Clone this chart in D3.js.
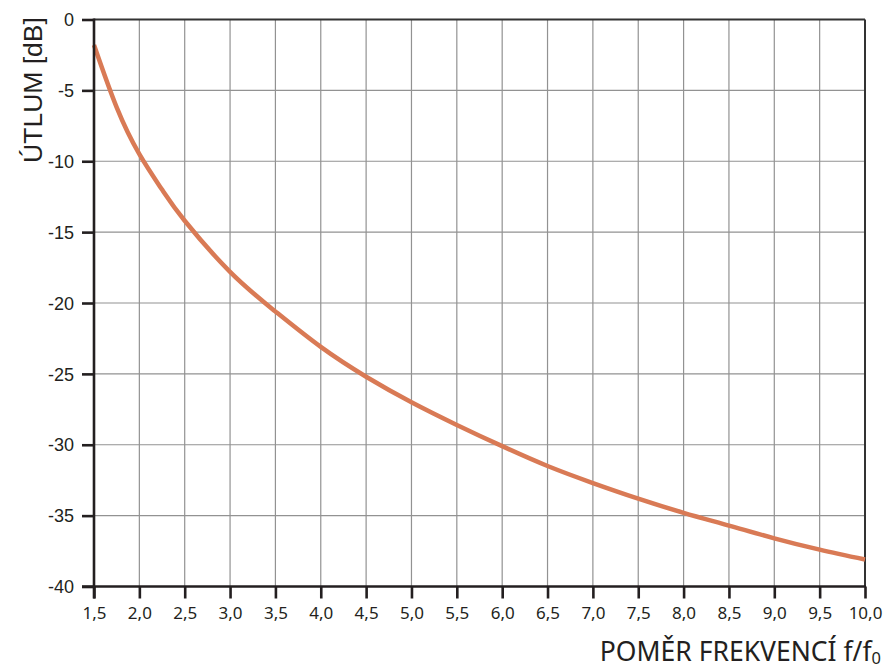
<!DOCTYPE html>
<html>
<head>
<meta charset="utf-8">
<script src="https://cdn.jsdelivr.net/npm/d3@7"></script>
<style>
  html, body { margin: 0; padding: 0; background: #fff; }
  svg { display: block; }
</style>
</head>
<body>
<svg id="chart" width="886" height="669"></svg>
<script>
// Attenuation curve: frequency ratio f/f0 vs attenuation in dB
const ratio = [1.5, 1.75, 2.0, 2.25, 2.5, 3.0, 3.5, 4.0, 4.5, 5.0, 5.5, 6.0, 6.5, 7.0, 7.5, 8.0, 8.5, 9.0, 9.5, 10.0];
const attenuation = [-1.8, -6.2, -9.5, -12.0, -14.2, -17.8, -20.6, -23.1, -25.2, -27.0, -28.6, -30.1, -31.5, -32.7, -33.8, -34.8, -35.7, -36.6, -37.4, -38.1];

const xTicks = [1.5, 2.0, 2.5, 3.0, 3.5, 4.0, 4.5, 5.0, 5.5, 6.0, 6.5, 7.0, 7.5, 8.0, 8.5, 9.0, 9.5, 10.0];
const yTicks = [0, -5, -10, -15, -20, -25, -30, -35, -40];

const svg = d3.select("#chart");
const plotL = 94, plotR = 865, plotT = 19.5, plotB = 586.5;

const x = d3.scaleLinear().domain([1.5, 10]).range([plotL, plotR]);
const y = d3.scaleLinear().domain([0, -40]).range([plotT, plotB]);

const fmtX = d => d.toFixed(1).replace(".", ",");

// grid
const grid = svg.append("g");
grid.selectAll("line.v").data(xTicks.slice(1, -1)).join("line")
  .attr("x1", d => x(d)).attr("x2", d => x(d))
  .attr("y1", plotT).attr("y2", plotB)
  .attr("stroke", "#929292").attr("stroke-width", 1.2);
grid.selectAll("line.h").data(yTicks.slice(1, -1)).join("line")
  .attr("x1", plotL).attr("x2", plotR)
  .attr("y1", d => y(d)).attr("y2", d => y(d))
  .attr("stroke", "#929292").attr("stroke-width", 1.2);

// frame: top and right
svg.append("line").attr("x1", plotL).attr("x2", plotR).attr("y1", plotT).attr("y2", plotT)
  .attr("stroke", "#333").attr("stroke-width", 2);
svg.append("line").attr("x1", plotR).attr("x2", plotR).attr("y1", plotT).attr("y2", plotB)
  .attr("stroke", "#333").attr("stroke-width", 2);

// curve
const line = d3.line()
  .x((d, i) => x(ratio[i]))
  .y(d => y(d))
  .curve(d3.curveNatural);
svg.append("path").datum(attenuation)
  .attr("d", line)
  .attr("fill", "none")
  .attr("stroke", "#d97a55")
  .attr("stroke-width", 4.5)
  .attr("stroke-linecap", "butt");

// axes
const xAxis = d3.axisBottom(x).tickValues(xTicks).tickFormat(fmtX).tickSize(12).tickSizeOuter(0);
const yAxis = d3.axisLeft(y).tickValues(yTicks).tickFormat(d => d === 0 ? "0" : "-" + Math.abs(d)).tickSize(12).tickSizeOuter(0);

const gx = svg.append("g").attr("transform", `translate(0,${plotB})`).call(xAxis);
gx.select(".domain").attr("stroke", "#231f20").attr("stroke-width", 2.6).attr("d", `M${plotL - 12},0H${plotR + 1}`);
gx.selectAll(".tick line").attr("stroke", "#231f20").attr("stroke-width", 2.6);
gx.selectAll(".tick text")
  .attr("font-family", "'Noto Sans', sans-serif").attr("font-size", 17)
  .attr("fill", "#231f20").attr("y", 20);

const gy = svg.append("g").attr("transform", `translate(${plotL},0)`).call(yAxis);
gy.select(".domain").attr("stroke", "#231f20").attr("stroke-width", 2.6).attr("d", `M0,${plotT - 1}V${plotB + 12}`);
gy.selectAll(".tick line").attr("stroke", "#231f20").attr("stroke-width", 2.6);
gy.selectAll(".tick text")
  .attr("font-family", "'Liberation Sans', Arial, sans-serif").attr("font-size", 18)
  .attr("fill", "#231f20").attr("x", -20).attr("dy", "0.34em");

// axis titles
svg.append("text")
  .attr("transform", "translate(42,90) rotate(-90)")
  .attr("text-anchor", "middle")
  .attr("font-family", "'Liberation Sans', Arial, sans-serif")
  .attr("font-size", 26.5)
  .attr("fill", "#231f20")
  .text("ÚTLUM [dB]");

const xt = svg.append("text")
  .attr("x", 881).attr("y", 661)
  .attr("text-anchor", "end")
  .attr("font-family", "'Noto Sans', sans-serif")
  .attr("font-size", 26.5)
  .attr("fill", "#231f20");
xt.append("tspan").text("POMĚR FREKVENCÍ f/f");
xt.append("tspan").attr("font-size", 16.5).attr("dy", 3).text("0");
</script>
</body>
</html>
